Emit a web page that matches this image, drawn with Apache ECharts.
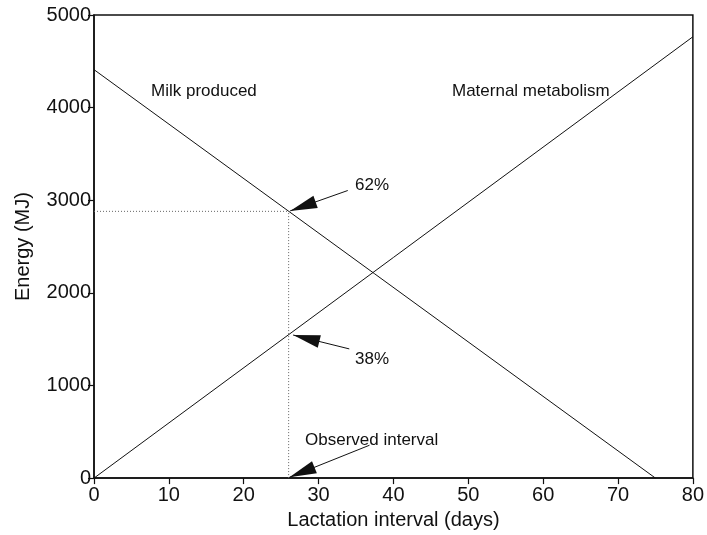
<!DOCTYPE html>
<html>
<head>
<meta charset="utf-8">
<script src="https://cdn.jsdelivr.net/npm/echarts@6/dist/echarts.min.js"></script>
<style>
  html, body { margin: 0; padding: 0; background: #fff; }
  #chart { width: 707px; height: 535px; }
</style>
</head>
<body>
<div id="chart"></div>
<script>
// Lines (days, MJ)
const milkDays = [0, 75];
const milkEnergy = [4410, 0];
const maternalDays = [0, 80];
const maternalEnergy = [0, 4765];

// Observed lactation interval and values on each line
const observedDay = 26;
const milkAtObserved = 2880;
const maternalAtObserved = 1545;

// Annotation arrows: tail and head points in data units
const arrowNames = ['62%', '38%', 'Observed interval'];
const arrowTails = [[33.9, 3105], [34.1, 1395], [36.8, 355]];
const arrowHeads = [[26.2, 2885], [26.6, 1545], [26.1, 8]];

const xTicks = [0, 10, 20, 30, 40, 50, 60, 70, 80];
const yTicks = [0, 1000, 2000, 3000, 4000, 5000];

const FONT = '"Liberation Sans", Arial, Helvetica, sans-serif';
const ink = '#111';

// arrow head whose tip sits at the centre of its box (lower half is empty)
const HEAD = 'path://M6,0 L6,0 M6,26 L12,52 L0,52 Z';

function pairs(xs, ys){ return xs.map((x, i) => [x, ys[i]]); }

const chart = echarts.init(document.getElementById('chart'), null, { renderer: 'canvas' });

chart.setOption({
  animation: false,
  backgroundColor: '#fff',
  textStyle: { fontFamily: FONT, color: ink },
  grid: { left: 94, right: 13, top: 15, bottom: 53, show: true, borderColor: ink, borderWidth: 1.5 },
  xAxis: {
    type: 'value',
    min: xTicks[0], max: xTicks[xTicks.length - 1], interval: 10,
    name: 'Lactation interval (days)',
    nameLocation: 'middle', nameGap: 28,
    nameTextStyle: { fontSize: 20, color: ink, fontFamily: FONT },
    axisLine: { show: true, lineStyle: { color: ink, width: 1.5 } },
    axisTick: { show: true, inside: false, length: 6, lineStyle: { color: ink, width: 1.2 } },
    axisLabel: { fontSize: 20, color: ink, margin: 7, fontFamily: FONT },
    splitLine: { show: false }
  },
  yAxis: {
    type: 'value',
    min: yTicks[0], max: yTicks[yTicks.length - 1], interval: 1000,
    name: 'Energy (MJ)',
    nameLocation: 'middle', nameGap: 61,
    nameTextStyle: { fontSize: 20, color: ink, fontFamily: FONT },
    axisLine: { show: true, lineStyle: { color: ink, width: 1.5 } },
    axisTick: { show: true, inside: false, length: 6, lineStyle: { color: ink, width: 1.2 } },
    axisLabel: { fontSize: 20, color: ink, margin: 3, fontFamily: FONT, formatter: v => String(v) },
    splitLine: { show: false }
  },
  series: [
    {
      name: 'Milk produced', type: 'line', symbol: 'none', silent: true,
      lineStyle: { color: ink, width: 1 },
      data: pairs(milkDays, milkEnergy)
    },
    {
      name: 'Maternal metabolism', type: 'line', symbol: 'none', silent: true,
      lineStyle: { color: ink, width: 1 },
      data: pairs(maternalDays, maternalEnergy)
    },
    {
      // dotted guides from the observed interval
      name: 'guide-h', type: 'line', symbol: 'none', silent: true,
      lineStyle: { color: '#666', width: 1, type: [1, 2] },
      data: [[0, milkAtObserved], [observedDay, milkAtObserved]]
    },
    {
      name: 'guide-v', type: 'line', symbol: 'none', silent: true,
      lineStyle: { color: '#666', width: 1, type: [1, 2] },
      data: [[observedDay, 0], [observedDay, milkAtObserved]],
      markLine: {
        silent: true,
        symbol: ['none', HEAD],
        symbolSize: [13, 54],
        label: { show: false },
        lineStyle: { color: ink, width: 1, type: 'solid' },
        data: arrowNames.map((n, i) => [
          { name: n, coord: arrowTails[i] },
          { coord: arrowHeads[i] }
        ])
      }
    }
  ],
  graphic: [
    { type: 'text', left: 151, top: 83, style: { text: 'Milk produced', fontSize: 17, fill: ink, fontFamily: FONT } },
    { type: 'text', left: 452, top: 83, style: { text: 'Maternal metabolism', fontSize: 17, fill: ink, fontFamily: FONT } },
    { type: 'text', left: 355, top: 177, style: { text: '62%', fontSize: 17, fill: ink, fontFamily: FONT } },
    { type: 'text', left: 355, top: 351, style: { text: '38%', fontSize: 17, fill: ink, fontFamily: FONT } },
    { type: 'text', left: 305, top: 432, style: { text: 'Observed interval', fontSize: 17, fill: ink, fontFamily: FONT } }
  ]
});
</script>
</body>
</html>
